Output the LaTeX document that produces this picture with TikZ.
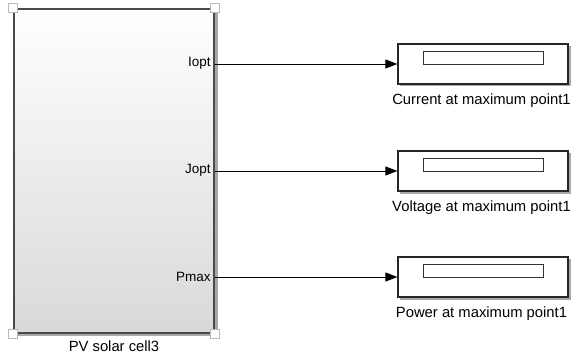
\documentclass[tikz,border=0pt]{standalone}
\usepackage{fontspec}
\setmainfont{Liberation Sans}
\usetikzlibrary{arrows.meta,positioning}
\definecolor{blkline}{HTML}{4A4A4A}
\definecolor{shadowgray}{HTML}{A8A8A8}

\begin{document}
\begin{tikzpicture}[
  x=1pt, y=-1pt,
  pvblock/.style={draw=blkline, line width=1.6pt,
                  top color=white, bottom color=black!15,
                  minimum width=200pt, minimum height=324pt, inner sep=0pt},
  disp/.style={draw=black!85, line width=1.2pt, fill=white,
               minimum width=170pt, minimum height=40pt, inner sep=0pt},
  dispwin/.style={draw=black!80, line width=0.8pt, fill=white,
                  minimum width=120pt, minimum height=13pt, inner sep=0pt},
  handle/.style={draw=gray!55, line width=0.7pt, fill=white,
                 minimum size=9pt, inner sep=0pt},
  port/.style={font=\fontsize{13.5}{15}\selectfont, anchor=east, inner sep=0pt},
  lbl/.style={font=\fontsize{14.8}{17}\selectfont, inner sep=0pt},
  sig/.style={-{Triangle[length=12pt, width=9pt]}, line width=0.9pt},
]
  \useasboundingbox (0,0) rectangle (572,358);

  % PV block with its shadow
  \fill[shadowgray] (17,12) rectangle (217.5,336);
  \node[pvblock] (pv) at (114,171) {};
  \node[lbl, below=7pt of pv] (pvname) {PV solar cell3};

  % selection handles
  \foreach \c/\n in {north west/hnw, north east/hne, south west/hsw, south east/hse}
    \node[handle] (\n) at (pv.\c) {};

  % display blocks
  \fill[shadowgray] (400,46) rectangle (570.5,86.5);
  \node[disp] (disp1) at (483,64) {};
  \fill[shadowgray] (400,153) rectangle (570.5,193.5);
  \node[disp] (disp2) at (483,171) {};
  \fill[shadowgray] (400,259) rectangle (570.5,299.5);
  \node[disp] (disp3) at (483,277) {};

  \node[dispwin] (win1) at ([yshift=6.5pt]disp1.center) {};
  \node[dispwin] (win2) at ([yshift=6.5pt]disp2.center) {};
  \node[dispwin] (win3) at ([yshift=6.5pt]disp3.center) {};

  \node[lbl, below=9pt of disp1, xshift=-1.5pt] (name1) {Current at maximum point1};
  \node[lbl, below=9pt of disp2, xshift=-1.5pt] (name2) {Voltage at maximum point1};
  \node[lbl, below=9pt of disp3, xshift=-1.5pt] (name3) {Power at maximum point1};

  % outputs of the PV block
  \coordinate (out1) at (pv.east |- disp1.west);
  \coordinate (out2) at (pv.east |- disp2.west);
  \coordinate (out3) at (pv.east |- disp3.west);

  \node[port] (p1) at ([xshift=-4pt,yshift=0.5pt]out1) {Iopt};
  \node[port] (p2) at ([xshift=-4pt,yshift=0.5pt]out2) {Jopt};
  \node[port] (p3) at ([xshift=-4pt,yshift=0.5pt]out3) {Pmax};

  % signal lines
  \draw[sig] (out1) -- (disp1.west);
  \draw[sig] (out2) -- (disp2.west);
  \draw[sig] (out3) -- (disp3.west);

\end{tikzpicture}
\end{document}
